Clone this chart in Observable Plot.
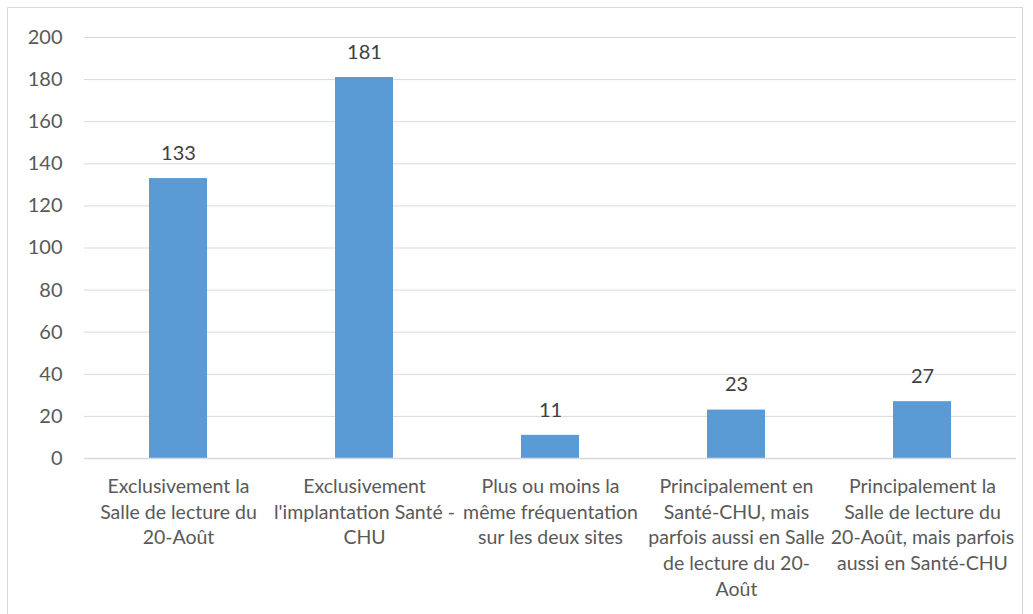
<!DOCTYPE html>
<html>
<head>
<meta charset="utf-8">
<script src="https://cdn.jsdelivr.net/npm/d3@7"></script>
<script src="https://cdn.jsdelivr.net/npm/@observablehq/plot@0.6"></script>
<style>
  html, body { margin: 0; padding: 0; background: #fff; }
  #wrap { position: relative; width: 1033px; height: 614px; overflow: hidden; }
  #frame { position: absolute; left: 7px; top: 7px; width: 1016px; height: 640px; border: 1px solid #d9d9d9; box-sizing: border-box; pointer-events: none; }
  svg { font-family: Lato, "Open Sans", sans-serif; }
</style>
</head>
<body>
<div id="wrap"><div id="frame"></div></div>
<script>
const categories = [
  "Exclusivement la\nSalle de lecture du\n20-Août",
  "Exclusivement\nl'implantation Santé -\nCHU",
  "Plus ou moins la\nmême fréquentation\nsur les deux sites",
  "Principalement en\nSanté-CHU, mais\nparfois aussi en Salle\nde lecture du 20-\nAoût",
  "Principalement la\nSalle de lecture du\n20-Août, mais parfois\naussi en Santé-CHU"
];
const values = [133, 181, 11, 23, 27];
const yTicks = [0, 20, 40, 60, 80, 100, 120, 140, 160, 180, 200];

const data = categories.map((c, i) => ({category: c, value: values[i]}));

const chart = Plot.plot({
  width: 1033,
  height: 614,
  marginLeft: 84,
  marginRight: 17,
  marginTop: 37,
  marginBottom: 156,
  style: {fontFamily: "Lato, 'Open Sans', sans-serif", background: "transparent"},
  x: {domain: categories, paddingInner: 0.69, paddingOuter: 0.345, align: 0.5},
  y: {domain: [0, 200], ticks: yTicks},
  marks: [
    Plot.gridY(yTicks, {stroke: "#d9d9d9", strokeOpacity: 1, strokeWidth: 1}),
    Plot.barY(data, {x: "category", y: "value", fill: "#5b9bd5"}),
    Plot.ruleY([0], {stroke: "#d9d9d9", strokeWidth: 1.5}),
    Plot.text(data, {x: "category", y: "value", text: d => String(d.value), dy: -25, fontSize: 20, fill: "#404040"}),
    Plot.axisY(yTicks, {tickSize: 0, tickPadding: 22, fontSize: 20, color: "#595959", label: null}),
    Plot.axisX({tickSize: 0, tickPadding: 16, fontSize: 19.5, color: "#595959", label: null, lineHeight: 1.32, textAnchor: "middle", lineAnchor: "top"})
  ]
});
document.getElementById("wrap").appendChild(chart);
</script>
</body>
</html>
